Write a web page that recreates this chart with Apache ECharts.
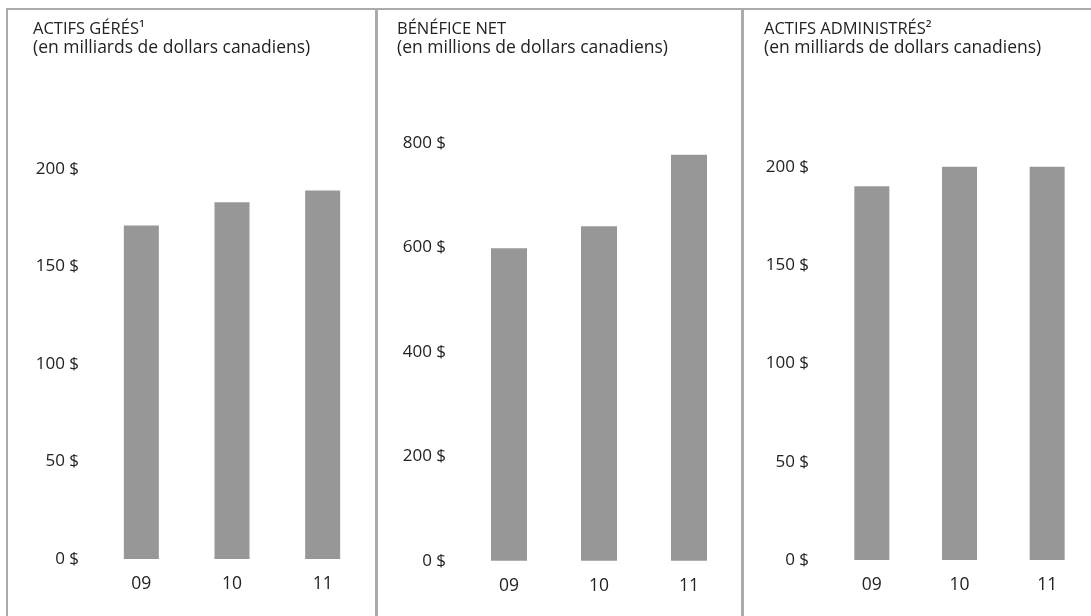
<!DOCTYPE html>
<html>
<head>
<meta charset="utf-8">
<script src="https://cdn.jsdelivr.net/npm/echarts@6/dist/echarts.min.js"></script>
<style>
html,body{margin:0;padding:0;background:#fff;}
#c{width:1091px;height:616px;}
</style>
</head>
<body>
<div id="c"></div>
<script>
const categories = ['09', '10', '11'];
const actifsGeres = [171, 183, 189];
const beneficeNet = [598, 640, 777];
const actifsAdministres = [190, 200, 200];
const ticks1 = [0, 50, 100, 150, 200];
const ticks2 = [0, 200, 400, 600, 800];
const ticks3 = [0, 50, 100, 150, 200];
const titleLines1 = ['ACTIFS GÉRÉS¹', 'BÉNÉFICE NET', 'ACTIFS ADMINISTRÉS²'];
const titleLines2 = [
  '(en milliards de dollars canadiens)',
  '(en millions de dollars canadiens)',
  '(en milliards de dollars canadiens)'
];

const FONT = '"Open Sans", sans-serif';
const TXT = '#222';
const BAR = '#979797';
const BORDER = '#ababab';

const grids = [
  {left: 96, top: 169, width: 272, height: 390},
  {left: 464, top: 142.7, width: 270, height: 418},
  {left: 828, top: 166.7, width: 264, height: 393.3}
];
const yCfg = [
  {ticks: ticks1, margin: 17},
  {ticks: ticks2, margin: 18},
  {ticks: ticks3, margin: 19}
];
const data = [actifsGeres, beneficeNet, actifsAdministres];
const titleLeft = [33, 397, 764];
const barW = [35, 36, 35];

const option = {
  animation: false,
  backgroundColor: '#fff',
  title: titleLines1.map((t, i) => ({
    text: '{a|' + t + '}\n{b|' + titleLines2[i] + '}', left: titleLeft[i], top: 20, padding: 0,
    textStyle: {
      fontFamily: FONT, fontSize: 16, fontWeight: 'normal', color: TXT,
      rich: {
        a: {fontFamily: FONT, fontSize: 16.5, color: TXT, lineHeight: 19},
        b: {fontFamily: FONT, fontSize: 17.5, color: TXT, lineHeight: 19}
      }
    }
  })),
  grid: grids,
  xAxis: grids.map((g, i) => ({
    type: 'category', gridIndex: i, data: categories,
    axisLine: {show: false}, axisTick: {show: false},
    axisLabel: {fontFamily: FONT, fontSize: 17.5, color: TXT, margin: 16}
  })),
  yAxis: yCfg.map((y, i) => ({
    type: 'value', gridIndex: i,
    min: y.ticks[0], max: y.ticks[y.ticks.length - 1],
    interval: y.ticks[1] - y.ticks[0],
    splitLine: {show: false}, axisLine: {show: false}, axisTick: {show: false},
    axisLabel: {fontFamily: FONT, fontSize: 17, color: TXT, margin: y.margin, formatter: v => v + ' $'}
  })),
  series: data.map((d, i) => ({
    type: 'bar', xAxisIndex: i, yAxisIndex: i, data: d,
    barWidth: barW[i], itemStyle: {color: BAR}
  })),
  graphic: [
    {type: 'line', shape: {x1: 6, y1: 9, x2: 1091, y2: 9}, style: {stroke: BORDER, lineWidth: 2}},
    {type: 'line', shape: {x1: 7, y1: 8, x2: 7, y2: 616}, style: {stroke: BORDER, lineWidth: 2}},
    {type: 'line', shape: {x1: 376.5, y1: 8, x2: 376.5, y2: 616}, style: {stroke: BORDER, lineWidth: 3}},
    {type: 'line', shape: {x1: 742.5, y1: 8, x2: 742.5, y2: 616}, style: {stroke: BORDER, lineWidth: 3}}
  ]
};

const chart = echarts.init(document.getElementById('c'), null, {renderer: 'canvas'});
chart.setOption(option);
</script>
</body>
</html>
